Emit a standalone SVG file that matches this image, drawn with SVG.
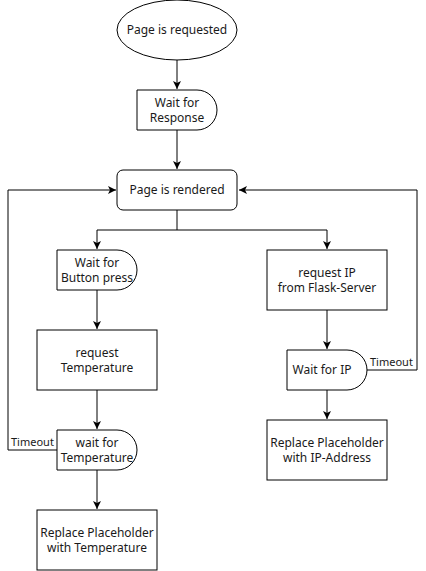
<svg xmlns="http://www.w3.org/2000/svg" width="426" height="571" viewBox="0 0 426 571">
<style>
.s{fill:#fff;stroke:#000;stroke-width:1}
.t{font-family:"Noto Sans","Open Sans",sans-serif;font-size:12px;fill:#1a1a1a;text-anchor:middle}
.l{font-family:"Noto Sans","Open Sans",sans-serif;font-size:11px;fill:#1a1a1a}
.c{fill:none;stroke:#000;stroke-width:1}
</style>
<defs>
<marker id="a" markerWidth="10" markerHeight="10" refX="8" refY="4" orient="auto" markerUnits="userSpaceOnUse">
<path d="M0,0 L8,4 L0,8 L2,4 Z" fill="#000"/>
</marker>
</defs>
<rect width="426" height="571" fill="#fff"/>
<g id="connectors">
<path class="c" d="M177,60 V89" marker-end="url(#a)"/>
<path class="c" d="M177,130 V169" marker-end="url(#a)"/>
<path class="c" d="M177,210 V230 H97 V249" marker-end="url(#a)"/>
<path class="c" d="M177,230 H327 V249" marker-end="url(#a)"/>
<path class="c" d="M97,290 V329" marker-end="url(#a)"/>
<path class="c" d="M97,390 V429" marker-end="url(#a)"/>
<path class="c" d="M97,470 V509" marker-end="url(#a)"/>
<path class="c" d="M57,450 H8 V190 H116" marker-end="url(#a)"/>
<path class="c" d="M327,310 V349" marker-end="url(#a)"/>
<path class="c" d="M327,390 V419" marker-end="url(#a)"/>
<path class="c" d="M367,370 H417 V190 H239" marker-end="url(#a)"/>
<text class="l" x="11" y="446">Timeout</text>
<text class="l" x="370" y="366">Timeout</text>
</g>
<g id="start">
<ellipse class="s" cx="177" cy="30" rx="60" ry="30"/>
<text class="t" x="177" y="34">Page is requested</text>
</g>
<g id="waitResponse">
<path class="s" d="M137,90 H197 A20,20 0 0 1 197,130 H137 Z"/>
<text class="t" x="177" y="107">Wait for<tspan x="177" dy="15">Response</tspan></text>
</g>
<g id="rendered">
<rect class="s" x="117" y="170" width="120" height="40" rx="6"/>
<text class="t" x="177" y="194">Page is rendered</text>
</g>
<g id="waitButton">
<path class="s" d="M57,250 H117 A20,20 0 0 1 117,290 H57 Z"/>
<text class="t" x="97" y="267">Wait for<tspan x="97" dy="15">Button press</tspan></text>
</g>
<g id="requestTemp">
<rect class="s" x="37" y="330" width="120" height="60"/>
<text class="t" x="97" y="357">request<tspan x="97" dy="15">Temperature</tspan></text>
</g>
<g id="waitTemp">
<path class="s" d="M57,430 H117 A20,20 0 0 1 117,470 H57 Z"/>
<text class="t" x="97" y="447">wait for<tspan x="97" dy="15">Temperature</tspan></text>
</g>
<g id="replaceTemp">
<rect class="s" x="37" y="510" width="120" height="60"/>
<text class="t" x="97" y="537">Replace Placeholder<tspan x="97" dy="15">with Temperature</tspan></text>
</g>
<g id="requestIP">
<rect class="s" x="267" y="250" width="120" height="60"/>
<text class="t" x="327" y="277">request IP<tspan x="327" dy="15">from Flask-Server</tspan></text>
</g>
<g id="waitIP">
<path class="s" d="M287,350 H347 A20,20 0 0 1 347,390 H287 Z"/>
<text class="t" x="322" y="374">Wait for IP</text>
</g>
<g id="replaceIP">
<rect class="s" x="267" y="420" width="120" height="60"/>
<text class="t" x="327" y="447">Replace Placeholder<tspan x="327" dy="15">with IP-Address</tspan></text>
</g>
</svg>
